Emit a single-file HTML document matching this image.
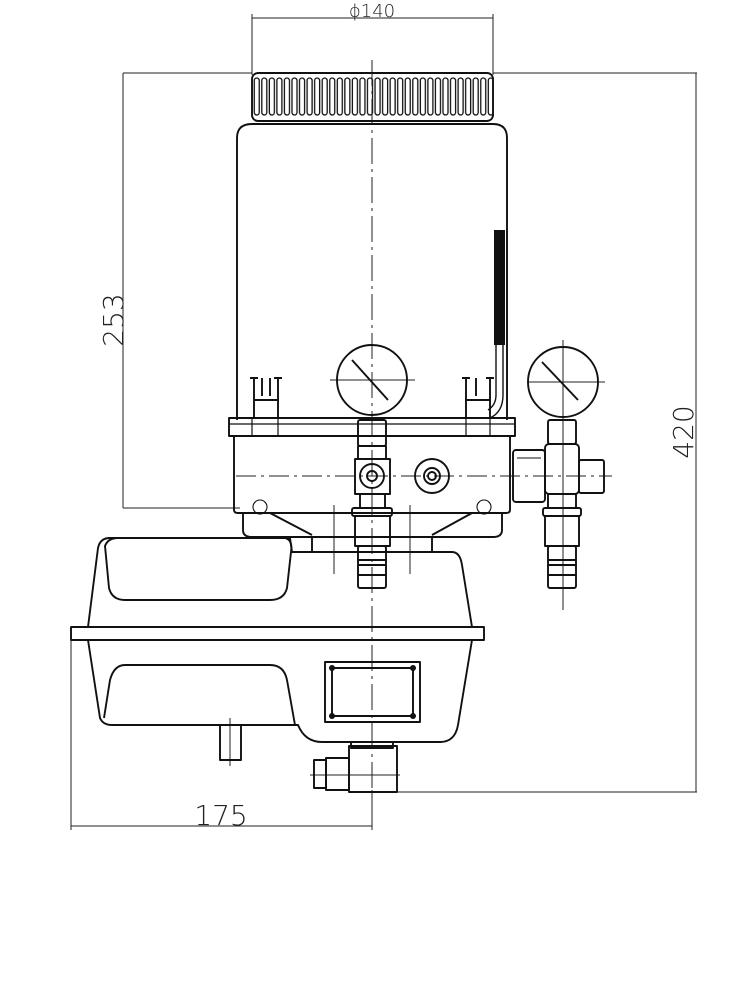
<!DOCTYPE html>
<html><head><meta charset="utf-8"><style>
html,body{margin:0;padding:0;background:#fff;width:750px;height:983px;overflow:hidden}
svg{display:block}
text{font-family:"DejaVu Sans","Liberation Sans",sans-serif;fill:#222;font-weight:300}
</style></head><body>
<svg width="750" height="983" viewBox="0 0 750 983" xmlns="http://www.w3.org/2000/svg">
<defs>
<pattern id="rib" x="261" y="0" width="7.55" height="983" patternUnits="userSpaceOnUse">
<rect x="0.8" y="78" width="5" height="37" rx="2.5" fill="none" stroke="#111" stroke-width="1.3"/>
</pattern>
</defs>
<g fill="none" stroke="#111" stroke-width="1.9" stroke-linejoin="round">
<g stroke-width="1" stroke="#222">
<line x1="252" y1="14" x2="252" y2="75"/><line x1="493" y1="14" x2="493" y2="75"/>
<line x1="252" y1="18" x2="493" y2="18"/>
<line x1="123" y1="73" x2="252" y2="73"/><line x1="493" y1="73" x2="697" y2="73"/>
<line x1="123" y1="73" x2="123" y2="508"/><line x1="123" y1="508" x2="240" y2="508"/>
<line x1="696" y1="73" x2="696" y2="792"/><line x1="395" y1="792" x2="697" y2="792"/>
<line x1="71" y1="640" x2="71" y2="830"/><line x1="71" y1="826" x2="372" y2="826"/>
<line x1="372" y1="790" x2="372" y2="830"/>
<line x1="372" y1="60" x2="372" y2="800" stroke-dasharray="26,5,3,5"/>
<line x1="236" y1="476" x2="612" y2="476" stroke-dasharray="20,5,3,5"/>
<line x1="330" y1="380" x2="415" y2="380"/><line x1="528" y1="382" x2="605" y2="382"/>
<line x1="563" y1="340" x2="563" y2="610"/>
<line x1="334" y1="505" x2="334" y2="574"/><line x1="410" y1="505" x2="410" y2="574"/>
<line x1="230" y1="718" x2="230" y2="766"/>
<line x1="310" y1="775" x2="400" y2="775"/>
</g>
<rect x="252" y="73" width="241" height="48" rx="6"/>
<rect x="252" y="73" width="241" height="48" fill="url(#rib)" stroke="none"/>
<path d="M237,420 L237,138 Q237,124 252,124 L493,124 Q507,124 507,138 L507,420"/>
<rect x="494" y="230" width="11" height="115" fill="#111" stroke="none"/>
<path d="M496,345 L496,395 Q496,405 488,410 M503,345 L503,395 Q503,412 490,418" stroke-width="1.4"/>
<path d="M254,378 L254,418 M278,378 L278,418 M254,400 L278,400 M250,378 L258,378 M274,378 L282,378 M262,378 L262,396 M270,378 L270,396"/>
<path d="M466,378 L466,418 M490,378 L490,418 M466,400 L490,400 M462,378 L470,378 M486,378 L494,378 M476,378 L476,396"/>
<rect x="229" y="418" width="286" height="18"/>
<line x1="229" y1="424" x2="515" y2="424" stroke-width="1.2"/>
<line x1="252" y1="418" x2="252" y2="436" stroke-width="1.2"/><line x1="278" y1="418" x2="278" y2="436" stroke-width="1.2"/>
<line x1="466" y1="418" x2="466" y2="436" stroke-width="1.2"/><line x1="490" y1="418" x2="490" y2="436" stroke-width="1.2"/>
<path d="M234,436 L234,510 Q234,513 238,513 L506,513 Q510,513 510,510 L510,436"/>
<circle cx="260" cy="507" r="7" stroke-width="1.1"/><circle cx="484" cy="507" r="7" stroke-width="1.1"/>
<path d="M243,513 L243,530 Q243,537 252,537 L312,537 M502,513 L502,530 Q502,537 493,537 L432,537"/>
<path d="M270,513 L312,535 M472,513 L432,535"/>
<rect x="312" y="537" width="120" height="15"/>
<circle cx="372" cy="380" r="35"/><line x1="352" y1="360" x2="388" y2="400"/>
<circle cx="563" cy="382" r="35"/><line x1="542" y1="362" x2="578" y2="400"/>
<rect x="358" y="420" width="28" height="26" rx="2"/>
<rect x="548" y="420" width="28" height="24" rx="2"/>
<rect x="355" y="459" width="35" height="35"/><circle cx="372" cy="476" r="12"/><circle cx="372" cy="476" r="5"/>
<circle cx="432" cy="476" r="17"/><circle cx="432" cy="476" r="8"/><circle cx="432" cy="476" r="4"/>
<rect x="358" y="446" width="28" height="13"/>
<rect x="360" y="494" width="25" height="14"/>
<rect x="352" y="508" width="40" height="8" rx="2"/>
<rect x="355" y="516" width="35" height="30"/>
<rect x="358" y="546" width="28" height="42" rx="2"/>
<line x1="358" y1="560" x2="386" y2="560"/><line x1="358" y1="565" x2="386" y2="565"/><line x1="358" y1="575" x2="386" y2="575"/>
<rect x="513" y="450" width="32" height="52" rx="3"/><line x1="517" y1="458" x2="541" y2="458" stroke-width="1.1"/>
<rect x="545" y="444" width="34" height="50" rx="4"/>
<rect x="579" y="460" width="25" height="33" rx="2"/>
<rect x="548" y="494" width="28" height="14"/>
<rect x="543" y="508" width="38" height="8" rx="2"/>
<rect x="545" y="516" width="34" height="30"/>
<rect x="548" y="546" width="28" height="42" rx="2"/>
<line x1="548" y1="560" x2="576" y2="560"/><line x1="548" y1="565" x2="576" y2="565"/><line x1="548" y1="575" x2="576" y2="575"/>
<path d="M88,627 L98,548 Q100,538 110,538 L290,538 L292,552 L312,552 M432,552 L452,552 Q460,552 462,565 L472,627"/>
<path d="M105,546 Q108,538 118,538 L285,538 Q293,540 291,552 L287,588 Q284,600 270,600 L125,600 Q112,600 109,588 Z"/>
<rect x="71" y="627" width="413" height="13"/>
<path d="M88,640 L100,718 Q103,725 112,725 L298,725 Q305,742 322,742 L440,742 Q455,742 458,725 L472,640"/>
<path d="M104,718 L110,680 Q114,665 125,665 L270,665 Q284,665 287,680 L295,725"/>
<rect x="325" y="662" width="95" height="60"/>
<rect x="332" y="668" width="81" height="48"/>
<g fill="#111" stroke="none"><circle cx="332" cy="668" r="3"/><circle cx="413" cy="668" r="3"/><circle cx="332" cy="716" r="3"/><circle cx="413" cy="716" r="3"/></g>
<rect x="220" y="725" width="21" height="35"/>
<rect x="351" y="742" width="42" height="6"/>
<rect x="349" y="746" width="48" height="46"/>
<rect x="326" y="758" width="23" height="32"/>
<rect x="314" y="760" width="12" height="28"/>
</g>
<text x="372" y="17" font-size="18" text-anchor="middle">ϕ140</text>
<text transform="translate(123,320) rotate(-90)" font-size="28" text-anchor="middle">253</text>
<text transform="translate(693,432) rotate(-90)" font-size="28" text-anchor="middle">420</text>
<text x="221" y="825" font-size="28" text-anchor="middle">175</text>
</svg>
</body></html>
